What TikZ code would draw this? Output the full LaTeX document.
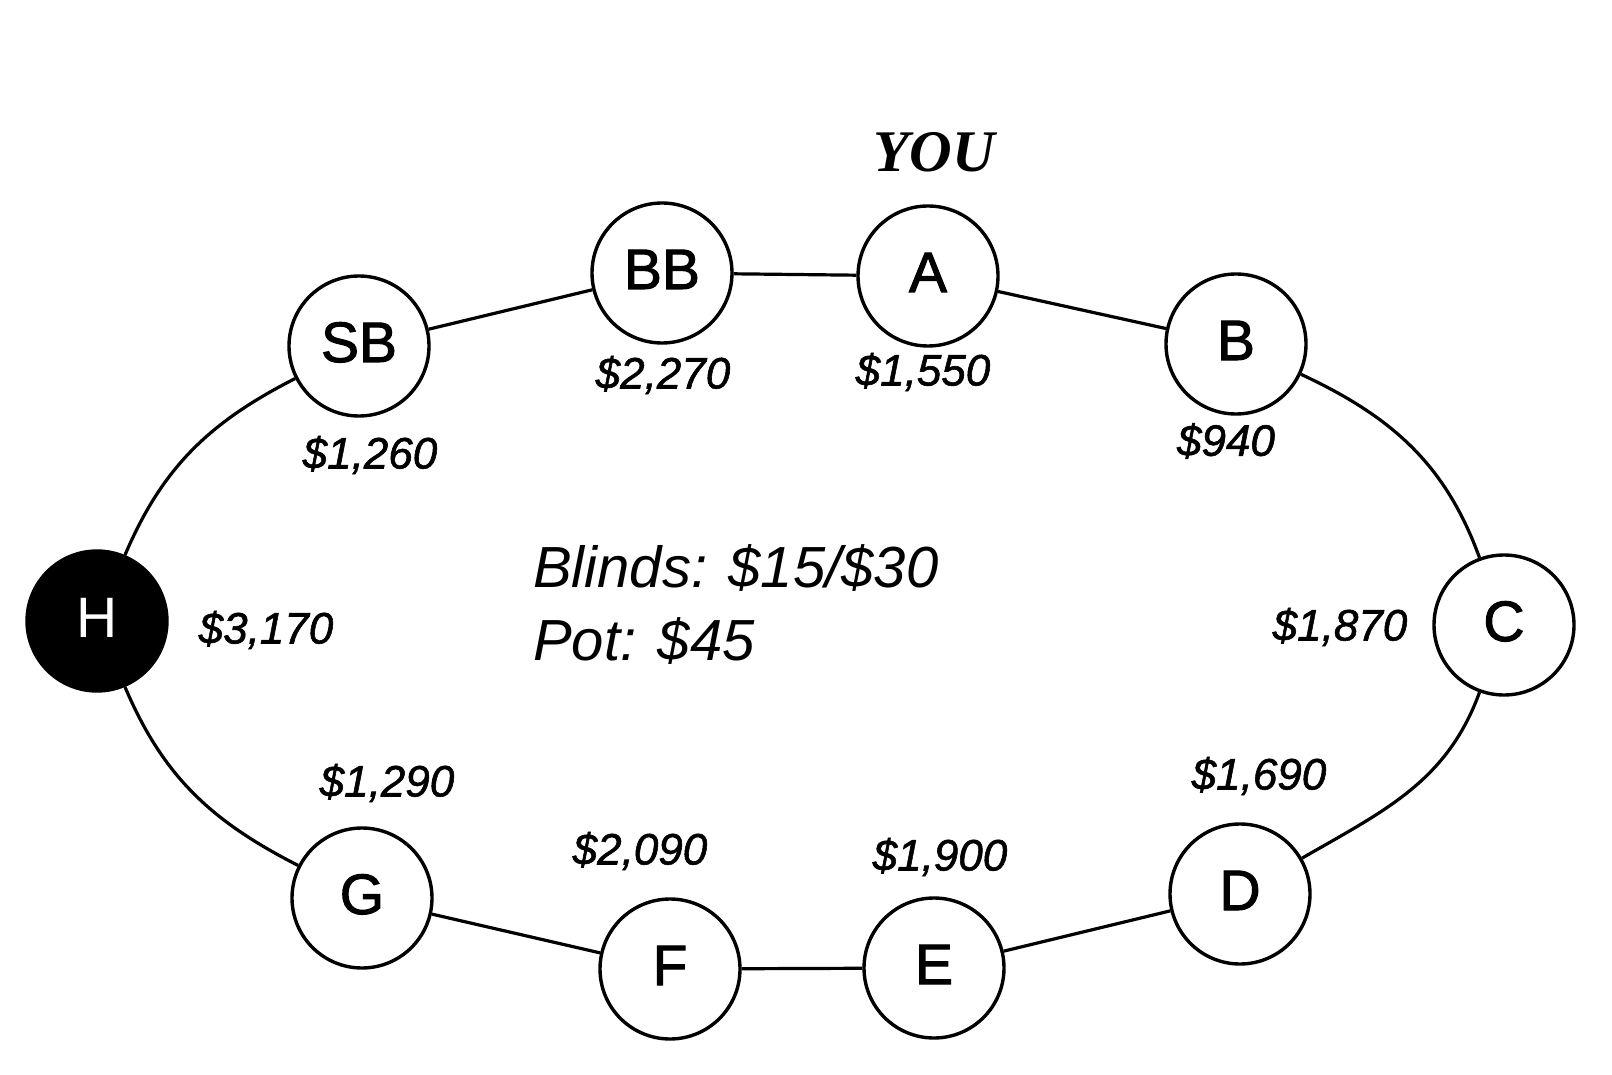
\documentclass[tikz,border=0pt]{standalone}
\usepackage{fontspec}
\newfontfamily\sansf{Liberation Sans}
\newfontfamily\sansb[FakeBold=1.8]{Liberation Sans}
\newfontfamily\sansa[FakeBold=1.3]{Liberation Sans}
\newfontfamily\serff{Liberation Serif}
\begin{document}
\begin{tikzpicture}[x=1pt,y=1pt,
  seat/.style={circle, draw, line width=3.4pt, minimum size=140pt, inner sep=0pt,
    font=\sansb\fontsize{57}{57}\selectfont, text height=32pt, text depth=0pt},
  dealer/.style={seat, fill=black, text=white, font=\sansf\fontsize{57}{57}\selectfont},
  amount/.style={font=\sansa\itshape\fontsize{44}{44}\selectfont, inner sep=0pt},
  ring/.style={line width=3.2pt},
  info/.style={font=\sansf\itshape\fontsize{58}{58}\selectfont, inner sep=0pt, anchor=base west},
  you/.style={font=\serff\bfseries\itshape\fontsize{59}{59}\selectfont, inner sep=0pt}]
\useasboundingbox (0,0) rectangle (1612,-1075);
\fill[white] (0,0) rectangle (1612,-1075);

% seats
\node[dealer] (H)  at (97,-621)  {H};
\node[seat]   (SB) at (359,-346) {SB};
\node[seat]   (BB) at (662,-273) {BB};
\node[seat]   (A)  at (928,-276) {A};
\node[seat]   (B)  at (1236,-344) {B};
\node[seat]   (C)  at (1504,-625) {C};
\node[seat]   (D)  at (1240,-894) {D};
\node[seat]   (E)  at (934,-968) {E};
\node[seat]   (F)  at (670,-969) {F};
\node[seat]   (G)  at (362,-898) {G};

% ring connectors
\draw[ring] (H) to[out=67,in=207] (SB);
\draw[ring] (SB) -- (BB);
\draw[ring] (BB) -- (A);
\draw[ring] (A) -- (B);
\draw[ring] (B) to[out=-25,in=110] (C);
\draw[ring] (C) to[out=-110,in=30] (D);
\draw[ring] (D) -- (E);
\draw[ring] (E) -- (F);
\draw[ring] (F) -- (G);
\draw[ring] (G) to[out=153,in=-67] (H);

% stacks
\node[amount] (mH)  at (266,-630) {\$3,170};
\node[amount] (mSB) at (370,-455) {\$1,260};
\node[amount] (mBB) at (663,-375) {\$2,270};
\node[amount] (mA)  at (923,-372) {\$1,550};
\node[amount] (mB)  at (1226,-441) {\$940};
\node[amount] (mC)  at (1340,-627) {\$1,870};
\node[amount] (mD)  at (1259,-776) {\$1,690};
\node[amount] (mE)  at (940,-857) {\$1,900};
\node[amount] (mF)  at (640,-851) {\$2,090};
\node[amount] (mG)  at (387,-783) {\$1,290};

% titles
\node[you] (you) at (934,-152) {YOU};
\node[info] (blinds) at (533,-587) {Blinds: \$15/\$30};
\node[info] (pot) at (533,-660) {Pot: \$45};
\end{tikzpicture}
\end{document}
